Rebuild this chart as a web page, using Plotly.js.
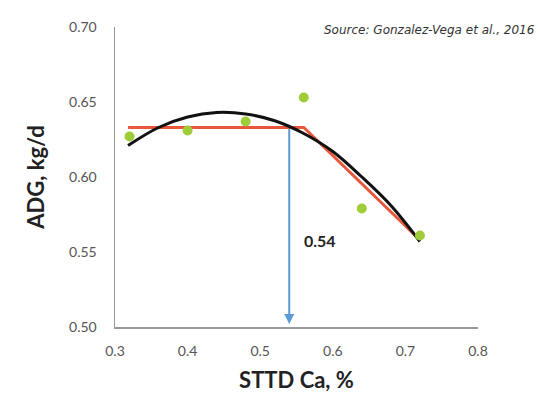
<!DOCTYPE html>
<html>
<head>
<meta charset="utf-8">
<script src="https://cdn.plot.ly/plotly-3.0.1.min.js"></script>
<style>html,body{margin:0;padding:0;background:#fff;}#chart{width:540px;height:401px;}</style>
</head>
<body>
<div id="chart"></div>
<script>
// Observed data
const caLevels = [0.32, 0.40, 0.48, 0.56, 0.64, 0.72];
const adgObserved = [0.627, 0.631, 0.637, 0.653, 0.579, 0.561];

// Quadratic fit curve
const quadX = [0.318, 0.36, 0.40, 0.44, 0.48, 0.52, 0.56, 0.60, 0.64, 0.68, 0.72];
const quadY = [0.621, 0.633, 0.640, 0.643, 0.642, 0.6375, 0.629, 0.617, 0.600, 0.581, 0.557];

// Broken-line fit
const brokenX = [0.318, 0.56, 0.72];
const brokenY = [0.633, 0.633, 0.558];

// Breakpoint marker
const breakX = 0.54;
const breakTop = 0.633;
const breakBottom = 0.502;
const breakLabel = "0.54";

const xTicks = [0.3, 0.4, 0.5, 0.6, 0.7, 0.8];
const xTickText = ["0.3", "0.4", "0.5", "0.6", "0.7", "0.8"];
const yTicks = [0.50, 0.55, 0.60, 0.65, 0.70];
const yTickText = ["0.50", "0.55", "0.60", "0.65", "0.70"];

const fontFam = "Lato, 'Open Sans', sans-serif";

const traces = [
  {x: brokenX, y: brokenY, mode: 'lines', line: {color: '#e8573c', width: 3}, hoverinfo: 'skip'},
  {x: quadX, y: quadY, mode: 'lines', line: {color: '#111111', width: 3, shape: 'spline', smoothing: 1}, hoverinfo: 'skip'},
  {x: caLevels, y: adgObserved, mode: 'markers', marker: {color: '#9fcd3a', size: 10}, cliponaxis: false}
];

const margin = {l: 115, r: 62, t: 27, b: 74};
const pw = 540 - margin.l - margin.r;
const ph = 401 - margin.t - margin.b;

const layout = {
  width: 540, height: 401,
  margin: margin,
  paper_bgcolor: '#ffffff', plot_bgcolor: '#ffffff',
  showlegend: false,
  font: {family: fontFam, color: '#555555'},
  xaxis: {
    range: [0.3, 0.8], tickvals: xTicks, ticktext: xTickText,
    showgrid: false, zeroline: false, showline: true, linecolor: '#999999', linewidth: 1.5,
    ticks: '', tickfont: {size: 14, color: '#555555'}, ticklabelstandoff: 11,
    title: {text: 'STTD Ca, %', font: {size: 22, color: '#222222', family: fontFam, weight: 'bold'}, standoff: 14}
  },
  yaxis: {
    range: [0.5, 0.7], tickvals: yTicks, ticktext: yTickText,
    showgrid: false, zeroline: false, showline: true, linecolor: '#999999', linewidth: 1.5,
    ticks: '', tickfont: {size: 14, color: '#555555'}, ticklabelstandoff: 14,
    title: {text: 'ADG, kg/d', font: {size: 22, color: '#222222', family: fontFam, weight: 'bold'}, standoff: 18}
  },
  annotations: [
    {x: breakX, y: breakBottom, ax: breakX, ay: breakTop, xref: 'x', yref: 'y', axref: 'x', ayref: 'y',
     showarrow: true, arrowhead: 2, arrowsize: 1, arrowwidth: 2, arrowcolor: '#5b9bd5', text: ''},
    {x: 0.583, y: 0.558, xref: 'x', yref: 'y', text: '<b>' + breakLabel + '</b>', showarrow: false,
     font: {size: 16, color: '#222222', family: fontFam}},
    {x: (537 - margin.l) / pw, y: (401 - margin.b - 30) / ph, xref: 'paper', yref: 'paper',
     text: '<i>Source: Gonzalez-Vega et al., 2016</i>',
     showarrow: false, xanchor: 'right', yanchor: 'middle', font: {size: 12, color: '#333333', family: "'DejaVu Sans', sans-serif"}}
  ]
};

Plotly.newPlot('chart', traces, layout, {displayModeBar: false, staticPlot: true});
</script>
</body>
</html>
